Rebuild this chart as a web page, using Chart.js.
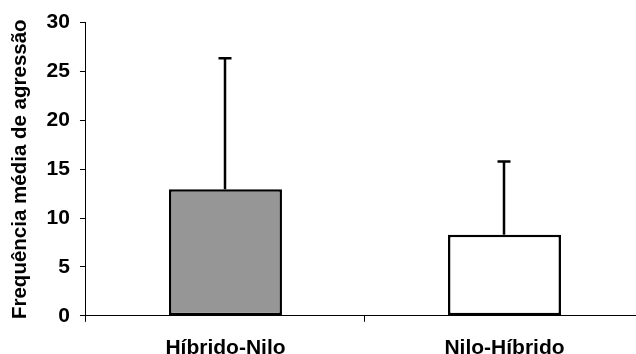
<!DOCTYPE html>
<html>
<head>
<meta charset="utf-8">
<script src="https://cdn.jsdelivr.net/npm/chart.js@4"></script>
<style>
  html, body { margin: 0; padding: 0; background: #fff; overflow: hidden; }
  #wrap { width: 636px; height: 354px; overflow: hidden; }
  #box { width: 656px; height: 354px; }
</style>
</head>
<body>
<div id="wrap"><div id="box"><canvas id="chart"></canvas></div></div>
<script>
// chart data
const groups = ['Híbrido-Nilo', 'Nilo-Híbrido'];
const means = [12.95, 8.3];
const errors = [13.4, 7.5];   // upper error bar length
const barFill = ['#969696', '#ffffff'];
const yTicks = [0, 5, 10, 15, 20, 25, 30];

const FONT = "'Liberation Sans', Arial, sans-serif";

// simple error bar drawing, positions come from the scales
const errorBars = {
    id: 'errorBars',
    afterDatasetsDraw: function (chart) {
        const ctx = chart.ctx;
        const y = chart.scales.y;
        const meta = chart.getDatasetMeta(0);
        ctx.save();
        ctx.strokeStyle = '#000';
        ctx.lineWidth = 2.5;
        meta.data.forEach((bar, i) => {
            const x = Math.round(bar.x);
            const top = y.getPixelForValue(means[i] + errors[i]);
            const base = y.getPixelForValue(means[i]);
            ctx.beginPath();
            ctx.moveTo(x, base);
            ctx.lineTo(x, top);
            ctx.moveTo(x - 6.5, top);
            ctx.lineTo(x + 6.5, top);
            ctx.stroke();
        });
        ctx.restore();
    }
};

new Chart(document.getElementById('chart'), {
    type: 'bar',
    data: {
        labels: groups,
        datasets: [{
            data: means,
            backgroundColor: barFill,
            borderColor: '#000',
            borderWidth: 2.5,
            borderSkipped: false,
            barPercentage: 0.405,
            categoryPercentage: 1
        }]
    },
    options: {
        responsive: true,
        maintainAspectRatio: false,
        animation: false,
        layout: { padding: { top: 16, right: 12, left: 8, bottom: -21 } },
        plugins: { legend: { display: false }, tooltip: { enabled: false } },
        scales: {
            x: {
                grid: { display: true, drawOnChartArea: false, drawTicks: true, tickLength: 6, color: '#000', offset: true },
                border: { display: true, color: '#000', width: 1 },
                ticks: { color: '#000', padding: 14, font: { family: FONT, size: 21, weight: 'bold' } }
            },
            y: {
                min: 0,
                max: 30,
                afterBuildTicks: function (s) { s.ticks = yTicks.map(v => ({ value: v })); },
                grid: { display: true, drawOnChartArea: false, drawTicks: true, tickLength: 6, color: '#000' },
                border: { display: true, color: '#000', width: 1 },
                ticks: { color: '#000', padding: 10, font: { family: FONT, size: 21, weight: 'bold' } },
                title: {
                    display: true,
                    text: 'Frequência média de agressão',
                    color: '#000',
                    padding: { top: 0, bottom: 4 },
                    font: { family: FONT, size: 20.5, weight: 'bold' }
                }
            }
        }
    },
    plugins: [errorBars]
});
</script>
</body>
</html>
